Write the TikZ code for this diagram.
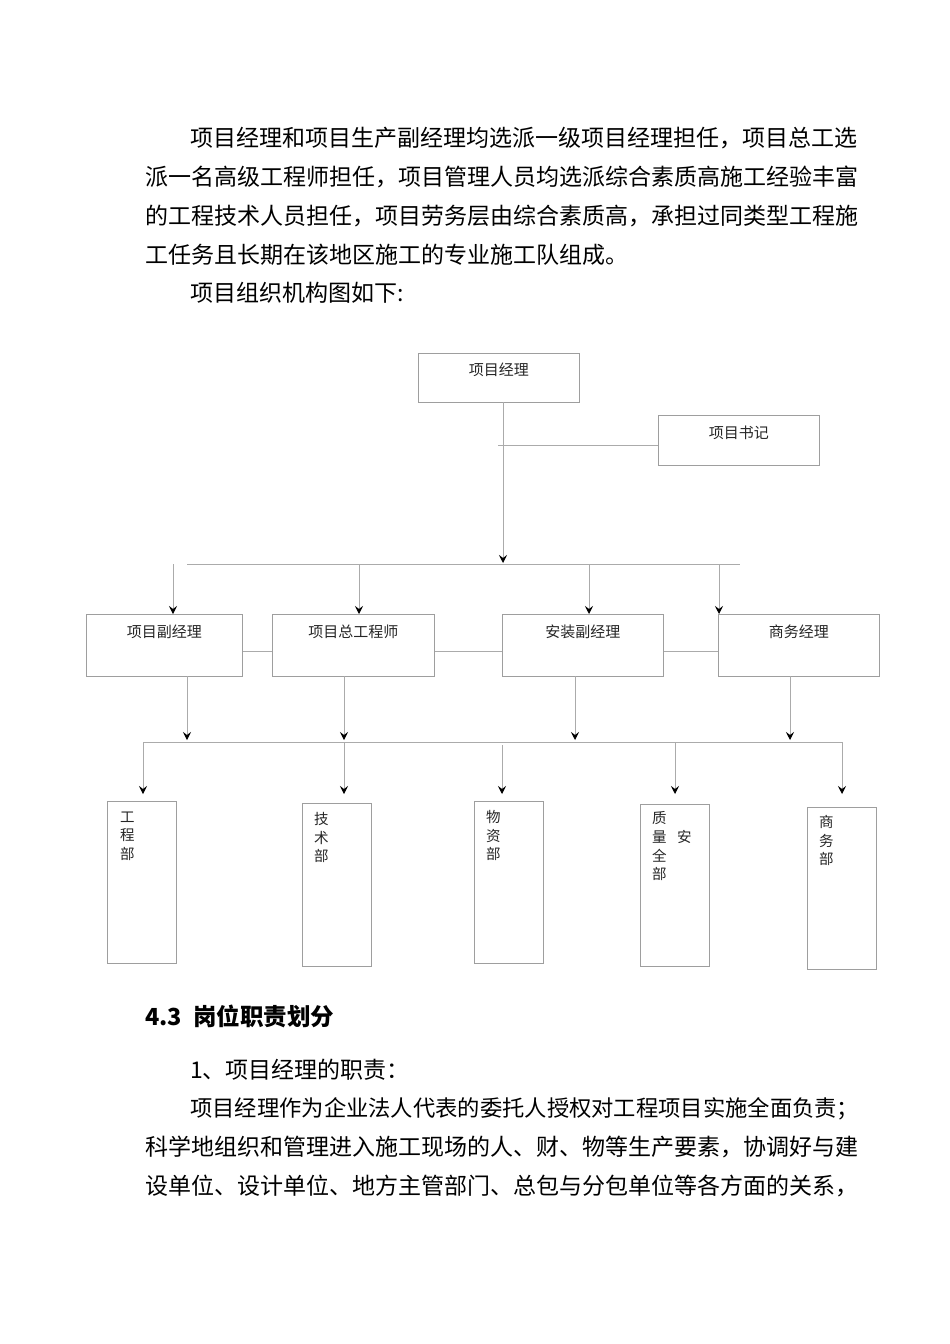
\documentclass[tikz,border=0pt]{standalone}
\usepackage{fontspec}
\setmainfont{Noto Sans CJK SC}
\usetikzlibrary{arrows.meta}
\tikzset{
  conn/.style={draw=black!33, line width=0.9pt},
  arr/.style={conn, -{Stealth[length=8pt,width=8pt,inset=3pt,color=black]}},
  boxbase/.style={draw=black!38, line width=0.9pt, rectangle, inner sep=0pt, anchor=north west, text=black!85, font=\fontsize{15}{15}\selectfont},
  dept/.style={boxbase, minimum width=69pt, minimum height=162pt},
  vlab/.style={anchor=north west, inner sep=0pt, align=left, text=black!85, font=\fontsize{14.5}{18.4}\selectfont},
  body/.style={anchor=west, inner sep=0pt, font=\fontsize{23}{23}\selectfont},
  head/.style={anchor=west, inner sep=0pt, font=\fontsize{23.5}{24}\selectfont\bfseries}
}
\begin{document}
\begin{tikzpicture}[x=1pt,y=-1pt]
\fill[white] (0,0) rectangle (950,1344);
\useasboundingbox (0,0) rectangle (950,1344);

% body text above
\node[body] (t1) at (190,138.5) {项目经理和项目生产副经理均选派一级项目经理担任，项目总工选};
\node[body] (t2) at (145,177) {派一名高级工程师担任，项目管理人员均选派综合素质高施工经验丰富};
\node[body] (t3) at (145,216) {的工程技术人员担任，项目劳务层由综合素质高，承担过同类型工程施};
\node[body] (t4) at (145,254.5) {工任务且长期在该地区施工的专业施工队组成。};
\node[body] (t5) at (190,293) {项目组织机构图如下:};

% top boxes
\node[boxbase, minimum width=161pt, text height=21.7pt, text depth=27.3pt] (pm) at (418,353) {项目经理};
\node[boxbase, minimum width=161pt, text height=22.7pt, text depth=27.3pt] (psec) at (658,415) {项目书记};

% second level boxes
\node[boxbase, minimum width=156pt, text height=22.7pt, text depth=39.3pt] (m1) at (86,614) {项目副经理};
\node[boxbase, minimum width=162pt, text height=22.7pt, text depth=39.3pt] (m2) at (272,614) {项目总工程师};
\node[boxbase, minimum width=161pt, text height=22.7pt, text depth=39.3pt] (m3) at (502,614) {安装副经理};
\node[boxbase, minimum width=161pt, text height=22.7pt, text depth=39.3pt] (m4) at (718,614) {商务经理};

% third level boxes
\node[dept] (d1) at (107,801) {};
\node[dept, minimum height=163pt] (d2) at (302,803) {};
\node[dept] (d3) at (474,801) {};
\node[dept] (d4) at (640,804) {};
\node[dept] (d5) at (807,807) {};
\node[vlab] (l1) at (120,811.5) {工\\程\\部};
\node[vlab] (l2) at (314,812.5) {技\\术\\部};
\node[vlab] (l3) at (486,810.5) {物\\资\\部};
\node[vlab, font=\fontsize{14.5}{18.7}\selectfont] (l4) at (652,811.5) {质\\量\\全\\部};
\node[vlab] (l4b) at (677,830.5) {安};
\node[vlab] (l5) at (819,815.5) {商\\务\\部};

% coordinates
\coordinate (s0) at (503,402);
\coordinate (sc) at (498,445);
\coordinate (bus1L) at (187,564);
\coordinate (bus1R) at (740,564);
\coordinate (tip1) at (0,563);
\coordinate (k1) at (173,564);
\coordinate (k2) at (359,564);
\coordinate (k3) at (589,564);
\coordinate (k4) at (719,564);
\coordinate (lk) at (0,651);
\coordinate (u1) at (187,676);
\coordinate (u2) at (344,676);
\coordinate (u3) at (575,676);
\coordinate (u4) at (790,676);
\coordinate (tip2) at (0,740);
\coordinate (bus2L) at (143,742);
\coordinate (bus2R) at (842,742);
\coordinate (w1) at (143,742);
\coordinate (w2) at (344,742);
\coordinate (w3) at (502,745);
\coordinate (w4) at (675,742);
\coordinate (w5) at (842,742);
\coordinate (tip3) at (0,794);

% connectors level 1
\draw[arr] (s0) -- (s0 |- tip1);
\draw[conn] (sc) -- (sc -| psec.west);
\draw[conn] (bus1L) -- (bus1R);
\draw[arr] (k1) -- (k1 |- m1.north);
\draw[arr] (k2) -- (k2 |- m2.north);
\draw[arr] (k3) -- (k3 |- m3.north);
\draw[arr] (k4) -- (k4 |- m4.north);

% links between second level boxes
\draw[conn] (m1.east |- lk) -- (m2.west |- lk);
\draw[conn] (m2.east |- lk) -- (m3.west |- lk);
\draw[conn] (m3.east |- lk) -- (m4.west |- lk);

% level 2 to bus 2
\draw[arr] (u1) -- (u1 |- tip2);
\draw[arr] (u2) -- (u2 |- tip2);
\draw[arr] (u3) -- (u3 |- tip2);
\draw[arr] (u4) -- (u4 |- tip2);
\draw[conn] (bus2L) -- (bus2R);

% bus 2 to departments
\draw[arr] (w1) -- (w1 |- tip3);
\draw[arr] (w2) -- (w2 |- tip3);
\draw[arr] (w3) -- (w3 |- tip3);
\draw[arr] (w4) -- (w4 |- tip3);
\draw[arr] (w5) -- (w5 |- tip3);

% text below
\node[head] (h1) at (145,1016.5) {\makebox[48pt][l]{4.3}岗位职责划分};
\node[body] (b1) at (190,1070) {1、项目经理的职责：};
\node[body, font=\fontsize{22.3}{23}\selectfont] (b2) at (190,1108.5) {项目经理作为企业法人代表的委托人授权对工程项目实施全面负责；};
\node[body] (b3) at (145,1147) {科学地组织和管理进入施工现场的人、财、物等生产要素，协调好与建};
\node[body] (b4) at (145,1185.5) {设单位、设计单位、地方主管部门、总包与分包单位等各方面的关系，};
\end{tikzpicture}
\end{document}
